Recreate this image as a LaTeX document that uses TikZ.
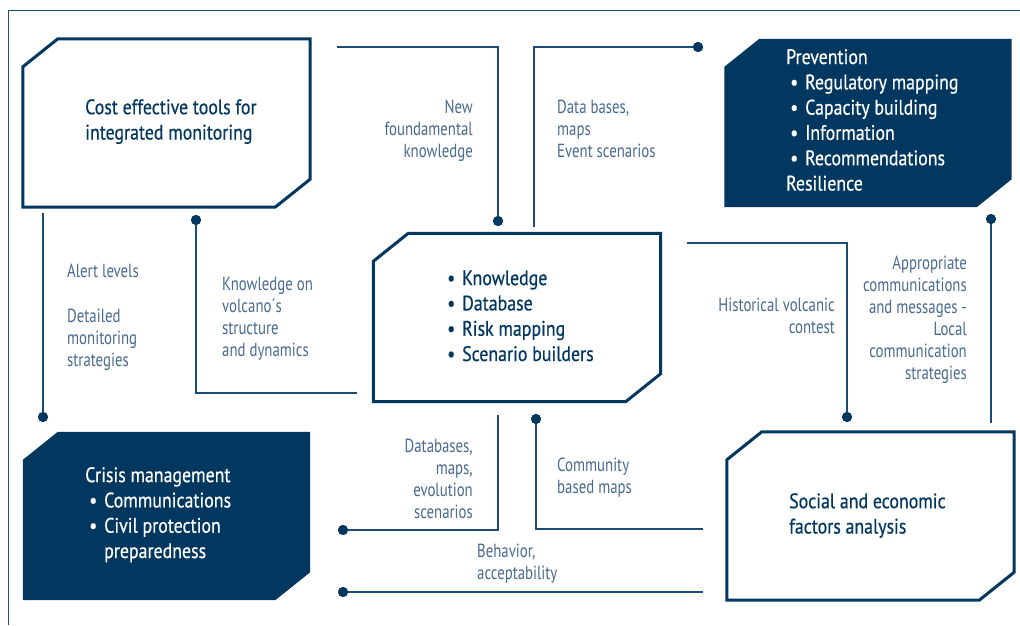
\documentclass[tikz,border=0pt]{standalone}
\usepackage{fontspec}
\setmainfont{PT Sans}
\newfontfamily\boxfont[FakeStretch=0.85,FakeBold=0.5]{PT Sans}
\newfontfamily\labfont[FakeStretch=0.78]{PT Sans}
\definecolor{navy}{HTML}{02375F}
\definecolor{linec}{HTML}{1E4A78}
\definecolor{labc}{HTML}{4A6A8F}
\newcommand{\bul}{\makebox[19pt][l]{\hspace{4pt}\textbullet}}
\newcommand{\chamferbox}[2]{%
  \path[#2] ([yshift=-28pt]#1.north west) -- ([xshift=35pt]#1.north west) -- (#1.north east)
    -- ([yshift=28pt]#1.south east) -- ([xshift=-35pt]#1.south east) -- (#1.south west) -- cycle;}
\begin{document}
\begin{tikzpicture}[x=1pt,y=-1pt,
  boxshape/.style={minimum width=287pt, minimum height=168pt, inner sep=0pt, draw=none},
  outlinebox/.style={draw=navy, line width=3pt, line join=miter},
  filledbox/.style={fill=navy, draw=none},
  btext/.style={font=\boxfont\fontsize{21}{25.3}\selectfont, align=left, inner sep=0pt, anchor=base west},
  darktext/.style={btext, text=navy},
  lighttext/.style={btext, text=white},
  lab/.style={font=\labfont\fontsize{19}{22}\selectfont, text=labc, inner sep=0pt},
  labl/.style={lab, align=left, anchor=base west},
  labr/.style={lab, align=right, anchor=base east},
  conn/.style={draw=linec, line width=1.6pt},
  dotmark/.style={circle, fill=navy, inner sep=0pt, minimum size=10pt},
  frame/.style={draw=linec, line width=1pt}]
\useasboundingbox (0,0) rectangle (1020,625);
\fill[white] (0,0) rectangle (1020,625);

% frame
\coordinate (f1) at (8,625);
\coordinate (f2) at (8,10);
\coordinate (f3) at (1020,10);
\draw[frame] (f1) -- (f2) -- (f3);

% boxes
\node[boxshape] (b1) at (166.5,123) {};
\node[boxshape] (b2) at (868,123) {};
\node[boxshape] (b3) at (166.5,516) {};
\node[boxshape] (b4) at (870.5,516) {};
\node[boxshape] (b5) at (517,317.5) {};
\chamferbox{b1}{outlinebox}
\chamferbox{b2}{filledbox}
\chamferbox{b3}{filledbox}
\chamferbox{b4}{outlinebox}
\chamferbox{b5}{outlinebox}

% box texts (anchor = baseline of last line)
\node[darktext] (t1) at (85,139.5) {Cost effective tools for\\integrated monitoring};
\node[lighttext] (t2) at (786,190.5) {Prevention\\\bul Regulatory mapping\\\bul Capacity building\\\bul Information\\\bul Recommendations\\Resilience};
\node[lighttext] (t3) at (85,558) {Crisis management\\\bul Communications\\\bul Civil protection\\\hspace{19pt}preparedness};
\node[darktext] (t4) at (789,533.5) {Social and economic\\factors analysis};
\node[darktext] (t5) at (443,361) {\bul Knowledge\\\bul Database\\\bul Risk mapping\\\bul Scenario builders};

% labels (anchor = baseline of last line)
\node[labr] (l1) at (473,157) {New\\foundamental\\knowledge};
\node[labl] (l2) at (557,157) {Data bases,\\maps\\Event scenarios};
\node[labl] (l3) at (67,366) {Alert levels\\[23pt]Detailed\\monitoring\\strategies};
\node[labl] (l4) at (222,356) {Knowledge on\\volcano´s\\structure\\and dynamics};
\node[labr] (l5) at (835,333) {Historical volcanic\\contest};
\node[labr] (l6) at (967,379) {Appropriate\\communications\\and messages -\\Local\\communication\\strategies};
\node[labr] (l7) at (473,518) {Databases,\\maps,\\evolution\\scenarios};
\node[labl] (l8) at (557,493) {Community\\based maps};
\node[labl] (l9) at (477,579) {Behavior,\\acceptability};

% connector end points
\coordinate (c1a) at (337,47);   \node[dotmark] (d1) at (498,221) {};
\coordinate (c2a) at (534,227);  \node[dotmark] (d2) at (698,47) {};
\coordinate (c3a) at (43,213);   \node[dotmark] (d3) at (43,417) {};
\node[dotmark] (d4) at (196,220) {}; \coordinate (c4a) at (357,393);
\coordinate (c5a) at (687,243);  \node[dotmark] (d5) at (847,417) {};
\node[dotmark] (d6) at (991,219) {}; \coordinate (c6a) at (991,423);
\coordinate (c7a) at (498,415);  \node[dotmark] (d7) at (343,530) {};
\node[dotmark] (d8) at (536,419) {}; \coordinate (c8a) at (703,529);
\node[dotmark] (d9) at (343,592) {}; \coordinate (c9a) at (703,592);

% connectors
\draw[conn] (c1a) -| (d1.center);
\draw[conn] (c2a) |- (d2.center);
\draw[conn] (c3a) -- (d3.center);
\draw[conn] (d4.center) |- (c4a);
\draw[conn] (c5a) -| (d5.center);
\draw[conn] (d6.center) -- (c6a);
\draw[conn] (c7a) |- (d7.center);
\draw[conn] (d8.center) |- (c8a);
\draw[conn] (d9.center) -- (c9a);
\foreach \d in {d1,d2,d3,d4,d5,d6,d7,d8,d9} \fill[navy] (\d) circle (5pt);
\end{tikzpicture}
\end{document}
